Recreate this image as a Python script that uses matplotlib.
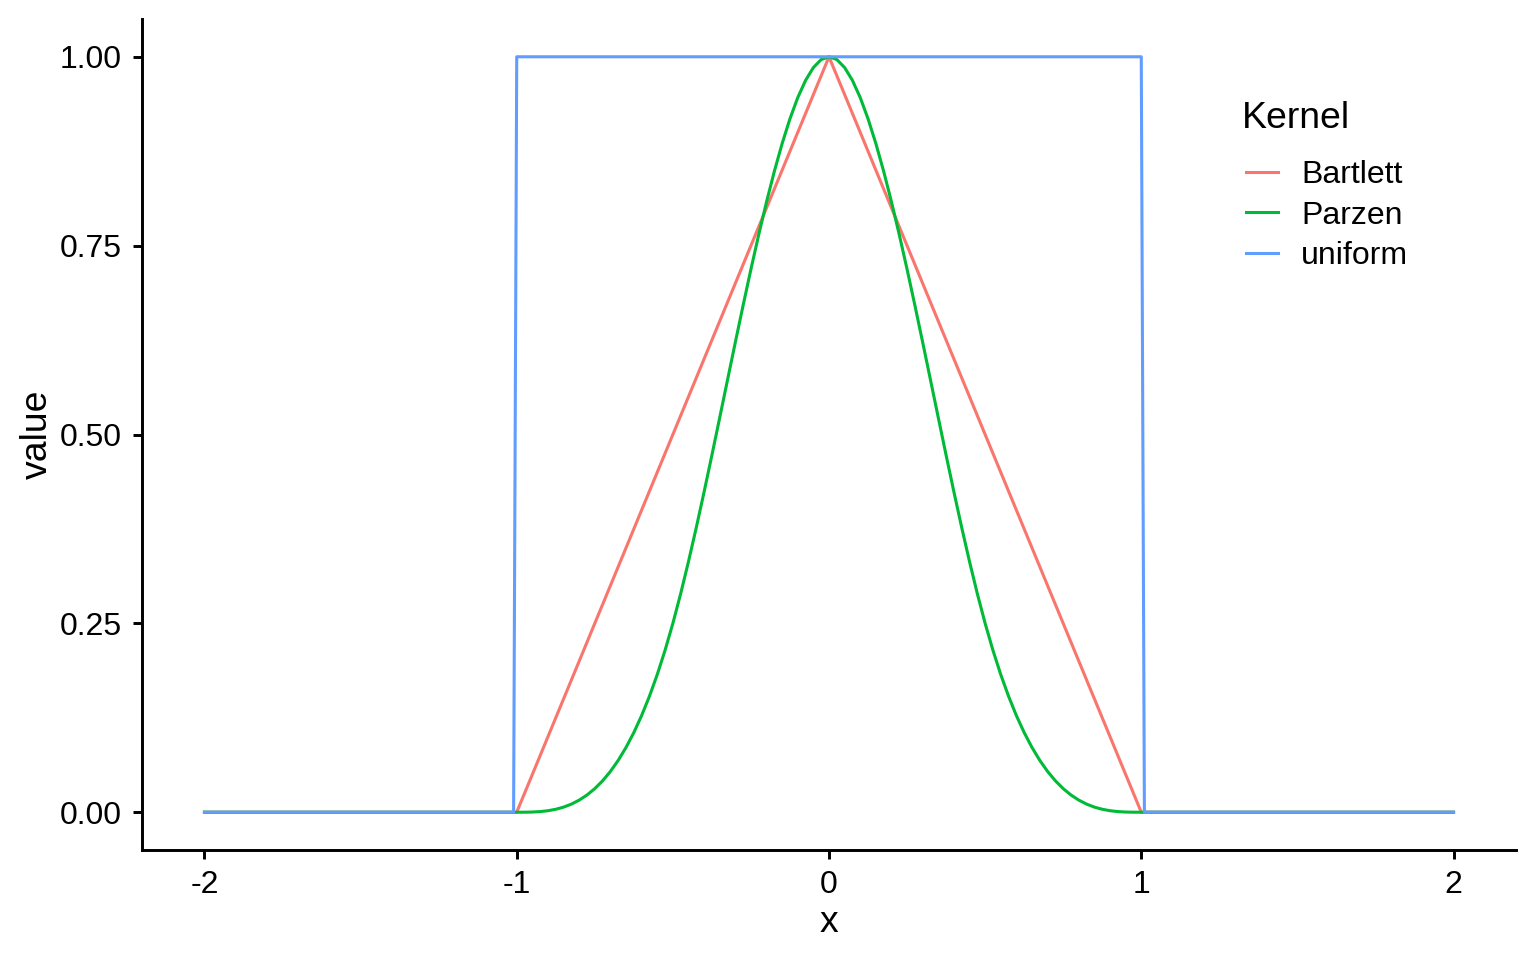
import matplotlib

matplotlib.use("Agg")
import matplotlib.pyplot as plt

plt.rcParams["font.family"] = ["Liberation Sans", "DejaVu Sans"]

# kernel values
bartlett_x = [-2.0, -1.0, 0.0, 1.0, 2.0]
bartlett_y = [0.0, 0.0, 1.0, 0.0, 0.0]

parzen_x = [-2.0,
            -1.0, -0.975, -0.95, -0.925, -0.9, -0.875, -0.85, -0.825, -0.8,
            -0.775, -0.75, -0.725, -0.7, -0.675, -0.65, -0.625, -0.6, -0.575,
            -0.55, -0.525, -0.5, -0.475, -0.45, -0.425, -0.4, -0.375, -0.35,
            -0.325, -0.3, -0.275, -0.25, -0.225, -0.2, -0.175, -0.15, -0.125,
            -0.1, -0.075, -0.05, -0.025,
            0.0,
            0.025, 0.05, 0.075, 0.1, 0.125, 0.15, 0.175, 0.2, 0.225, 0.25,
            0.275, 0.3, 0.325, 0.35, 0.375, 0.4, 0.425, 0.45, 0.475, 0.5,
            0.525, 0.55, 0.575, 0.6, 0.625, 0.65, 0.675, 0.7, 0.725, 0.75,
            0.775, 0.8, 0.825, 0.85, 0.875, 0.9, 0.925, 0.95, 0.975, 1.0,
            2.0]
parzen_y = [0.0,
            0.0, 0.00003, 0.00025, 0.00084, 0.002, 0.00391, 0.00675, 0.01072,
            0.016, 0.02278, 0.03125, 0.04159, 0.054, 0.06866, 0.08575, 0.10547,
            0.128, 0.15353, 0.18225, 0.21434, 0.25, 0.28928, 0.33175, 0.37684,
            0.424, 0.47266, 0.52225, 0.57222, 0.622, 0.67103, 0.71875, 0.76459,
            0.808, 0.84841, 0.88525, 0.91797, 0.946, 0.96878, 0.98575, 0.99634,
            1.0,
            0.99634, 0.98575, 0.96878, 0.946, 0.91797, 0.88525, 0.84841, 0.808,
            0.76459, 0.71875, 0.67103, 0.622, 0.57222, 0.52225, 0.47266, 0.424,
            0.37684, 0.33175, 0.28928, 0.25, 0.21434, 0.18225, 0.15353, 0.128,
            0.10547, 0.08575, 0.06866, 0.054, 0.04159, 0.03125, 0.02278, 0.016,
            0.01072, 0.00675, 0.00391, 0.002, 0.00084, 0.00025, 0.00003, 0.0,
            0.0]

uniform_x = [-2.0, -1.01, -1.0, 1.0, 1.01, 2.0]
uniform_y = [0.0, 0.0, 1.0, 1.0, 0.0, 0.0]

kernels = ["Bartlett", "Parzen", "uniform"]
colors = ["#F8766D", "#00BA38", "#619CFF"]

x_ticks = [-2, -1, 0, 1, 2]
y_ticks = [0.0, 0.25, 0.5, 0.75, 1.0]

fig = plt.figure(figsize=(8, 5), dpi=192)
ax = fig.add_axes([142 / 1536, 1 - 850 / 960, (1516 - 142) / 1536, (850 - 19) / 960])

series = [(bartlett_x, bartlett_y), (parzen_x, parzen_y), (uniform_x, uniform_y)]
for name, color, (xs, ys) in zip(kernels, colors, series):
    ax.plot(xs, ys, color=color, lw=1.15, label=name, solid_joinstyle="round")

ax.set_xlim(-2.2, 2.2)
ax.set_ylim(-0.05, 1.05)
ax.set_xticks(x_ticks)
ax.set_xticklabels([f"{t:d}" for t in x_ticks])
ax.set_yticks(y_ticks)
ax.set_yticklabels([f"{t:.2f}" for t in y_ticks])
for side in ("top", "right"):
    ax.spines[side].set_visible(False)
for side in ("left", "bottom"):
    ax.spines[side].set_linewidth(1.1)
ax.tick_params(length=3.5, width=1.1, labelsize=12, pad=4, colors="black")
ax.set_xlabel("x", fontsize=14, labelpad=2)
ax.set_ylabel("value", fontsize=14, labelpad=2)

# legend title drawn separately so the gap to the keys matches ggplot's
fig.text(1242 / 1536, 1 - 128 / 960, "Kernel", fontsize=14, ha="left", va="baseline")
ax.legend(loc="upper left", bbox_to_anchor=(1246 / 1536, 1 - 160 / 960),
          bbox_transform=fig.transFigure, frameon=False, fontsize=12,
          handlelength=1.0, handletextpad=0.72, labelspacing=0.33,
          borderpad=0, borderaxespad=0)

fig.savefig("out.png", dpi=192)
